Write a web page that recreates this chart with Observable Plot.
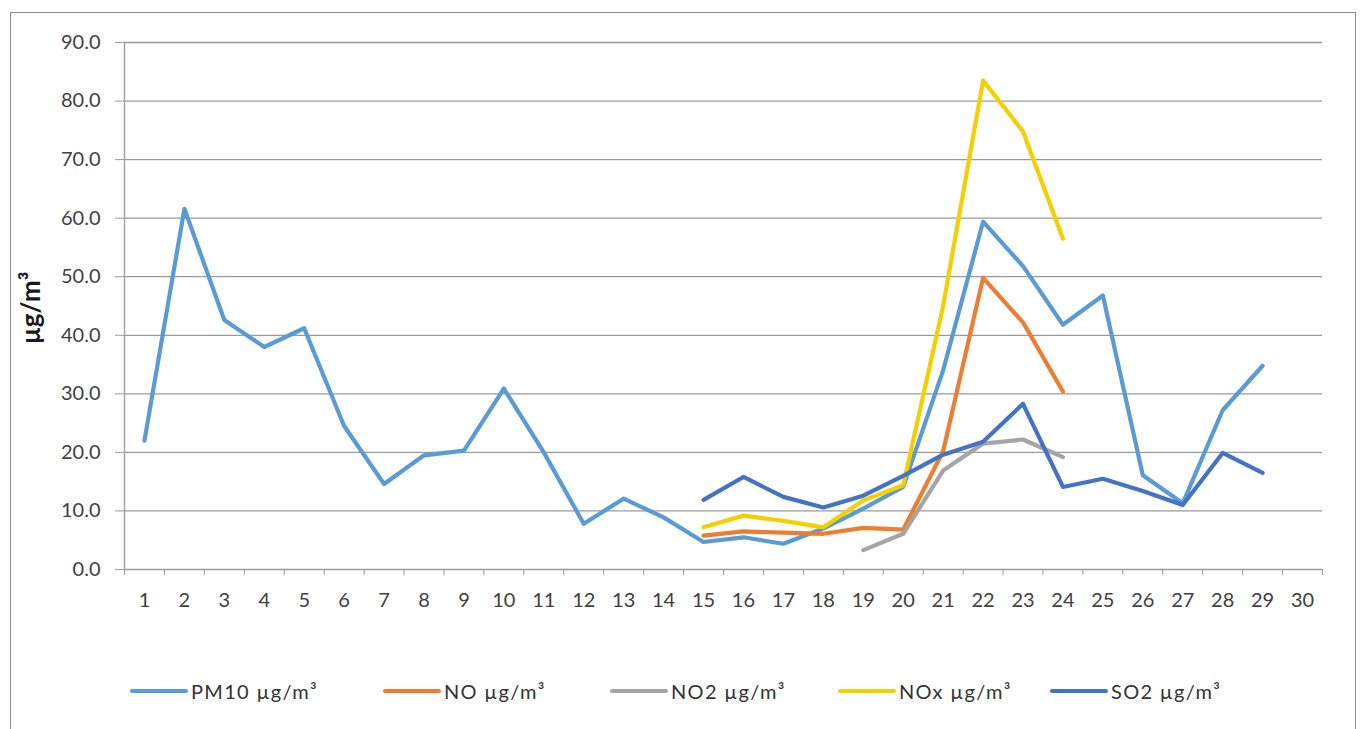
<!DOCTYPE html>
<html>
<head>
<meta charset="utf-8">
<script src="https://cdn.jsdelivr.net/npm/d3@7"></script>
<script src="https://cdn.jsdelivr.net/npm/@observablehq/plot@0.6"></script>
<style>
  html, body { margin: 0; padding: 0; background: #fff; }
  #frame { position: absolute; left: 10px; top: 12px; width: 1344px; height: 730px; border: 1px solid #8c8c8c; box-sizing: content-box; }
  #chart { position: absolute; left: 0; top: 0; }
  .leg { position: absolute; top: 664px; height: 28px; display: flex; align-items: center; font-family: Lato, "Open Sans", sans-serif; font-size: 20px; letter-spacing: 1.3px; color: #333; white-space: nowrap; }
  .leg .sw { display: inline-block; height: 4px; border-radius: 2px; margin-right: 3px; }
</style>
</head>
<body>
<div id="frame"><div id="chart"></div></div>
<script>
// Day labels on the x axis
const days = [1,2,3,4,5,6,7,8,9,10,11,12,13,14,15,16,17,18,19,20,21,22,23,24,25,26,27,28,29,30];
const yTicks = [0,10,20,30,40,50,60,70,80,90];

// Series values (µg/m³), null = no measurement
const pm10 = [22, 61.6, 42.6, 38, 41.2, 24.5, 14.6, 19.5, 20.3, 30.9, 20, 7.8, 12.1, 8.9, 4.7, 5.5, 4.4, 7, 10.4, 14.1, 34, 59.4, 51.8, 41.8, 46.8, 16.1, 11.3, 27.2, 34.8, null];
const no   = [null,null,null,null,null,null,null,null,null,null,null,null,null,null, 5.8, 6.5, 6.3, 6.1, 7.1, 6.8, 20.2, 49.8, 42.2, 30.4, null,null,null,null,null,null];
const no2  = [null,null,null,null,null,null,null,null,null,null,null,null,null,null, null,null,null,null, 3.3, 6.1, 16.9, 21.5, 22.2, 19.2, null,null,null,null,null,null];
const nox  = [null,null,null,null,null,null,null,null,null,null,null,null,null,null, 7.2, 9.2, 8.3, 7.2, 11.8, 14.4, 45, 83.5, 74.8, 56.5, null,null,null,null,null,null];
const so2  = [null,null,null,null,null,null,null,null,null,null,null,null,null,null, 11.9, 15.8, 12.4, 10.6, 12.6, 16, 19.6, 21.8, 28.3, 14.1, 15.5, 13.4, 11, 19.9, 16.5, null];

const seriesNames = ["PM10 µg/m³", "NO µg/m³", "NO2 µg/m³", "NOx µg/m³", "SO2 µg/m³"];
const seriesValues = [pm10, no, no2, nox, so2];
const seriesColors = ["#5b9bd5", "#ed7d31", "#a5a5a5", "#f5cf00", "#4472c4"];

const bounds = days.map(d => d - 0.5).concat([days[days.length - 1] + 0.5]);
const font = 'Lato, "Open Sans", sans-serif';

const lineMarks = seriesValues.map((vals, i) => {
  const data = days.map((d, j) => ({day: d, v: vals[j]})).filter(p => p.v != null);
  return Plot.line(data, {x: "day", y: "v", stroke: seriesColors[i], strokeWidth: 4.2, strokeLinejoin: "round", strokeLinecap: "round"});
});

const chart = Plot.plot({
  width: 1344,
  height: 600,
  marginLeft: 113,
  marginRight: 33,
  marginTop: 29,
  marginBottom: 44,
  style: {fontFamily: font, fontSize: "20px", color: "#404040", background: "transparent"},
  x: {type: "linear", domain: [0.5, 30.5]},
  y: {type: "linear", domain: [0, 90]},
  marks: [
    Plot.gridY(yTicks, {stroke: "#9a9a9a", strokeOpacity: 1, strokeWidth: 1.3}),
    Plot.axisY(yTicks, {tickSize: 9, tickPadding: 15, stroke: "#9a9a9a", tickFormat: d => d.toFixed(1), fill: "#404040", label: null}),
    Plot.ruleX([0.5], {y1: 0, y2: 90, stroke: "#9a9a9a", strokeWidth: 1.3}),
    Plot.axisX(bounds, {tickSize: 6, stroke: "#9a9a9a", tickFormat: () => "", label: null}),
    Plot.axisX(days, {tickSize: 0, tickPadding: 23, tickFormat: d => String(d), fill: "#404040", label: null}),
    Plot.text(["µg/m³"], {frameAnchor: "left", dx: -93, dy: 2, rotate: -90, textAnchor: "middle", fontWeight: "bold", fontSize: 26, fill: "#1a1a1a"}),
    ...lineMarks
  ]
});
document.getElementById("chart").appendChild(chart);

// Legend below the chart
const legX = [119, 372, 599, 827, 1039];
const frame = document.getElementById("frame");
seriesNames.forEach((name, i) => {
  const item = document.createElement("div");
  item.className = "leg";
  item.style.left = legX[i] + "px";
  const sw = document.createElement("span");
  sw.className = "sw";
  sw.style.width = "58px";
  sw.style.background = seriesColors[i];
  const label = document.createElement("span");
  label.textContent = name;
  item.appendChild(sw);
  item.appendChild(label);
  frame.appendChild(item);
});
</script>
</body>
</html>
